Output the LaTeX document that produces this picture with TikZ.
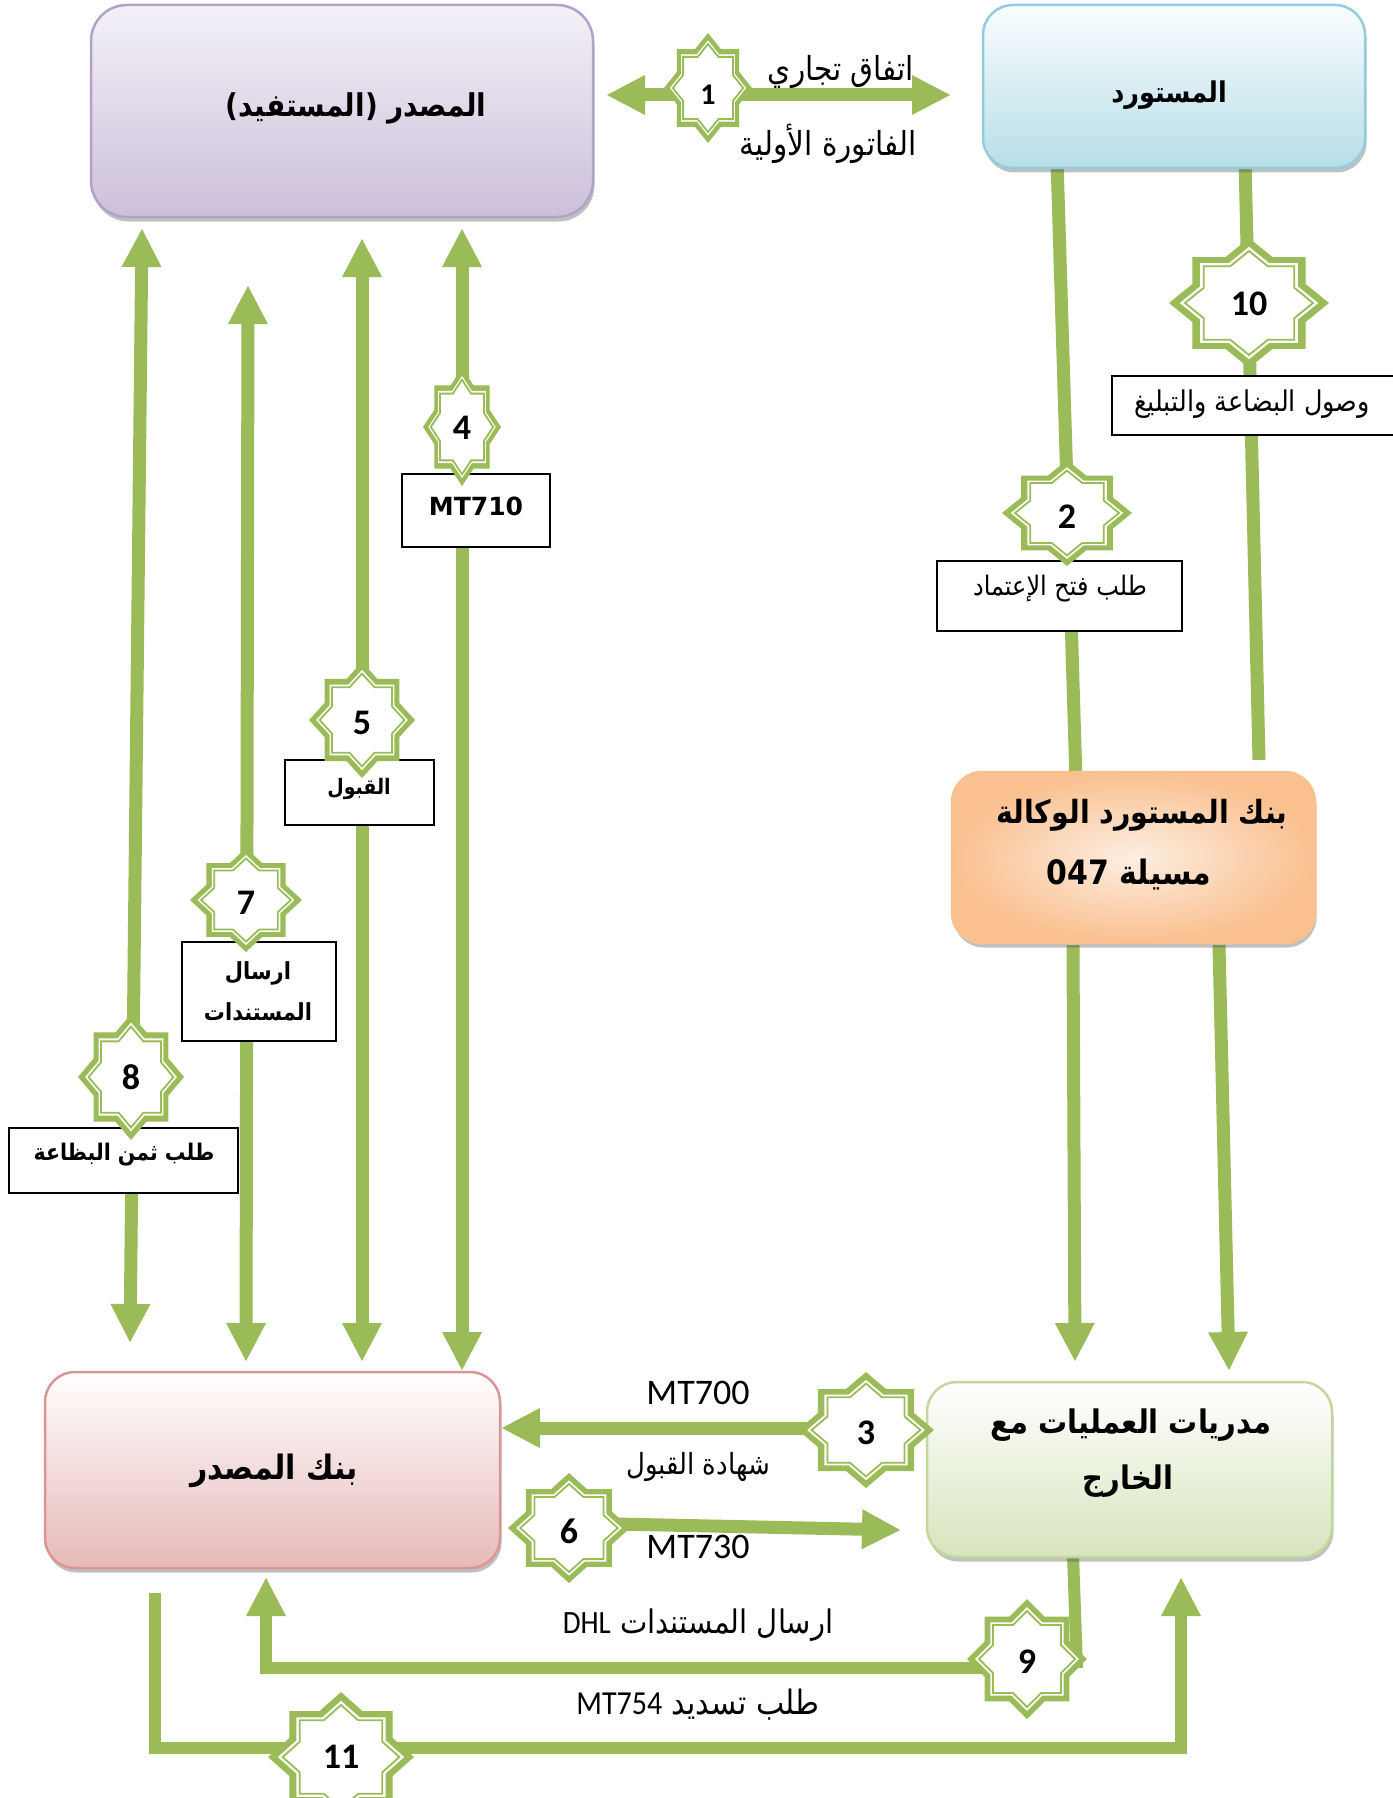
\documentclass[tikz,border=0pt]{standalone}
\usepackage{fontspec}
\usepackage{graphicx}
\usetikzlibrary{arrows.meta,shadows}
\TeXXeTstate=1
\newfontfamily\arf[Script=Arabic]{DejaVu Sans}
\newfontfamily\carl{Carlito}
\newfontfamily\dvs{DejaVu Sans}
\newcommand{\AR}[1]{\scalebox{1}[1.12]{\arf\beginR #1\endR}}
\newcommand{\fs}[1]{\fontsize{#1}{#1}\selectfont}
\definecolor{gr}{HTML}{9BBB59}
\definecolor{purB}{HTML}{B3A2C7}
\definecolor{purT}{HTML}{F3F1F7}
\definecolor{purD}{HTML}{CCC0DA}
\definecolor{bluB}{HTML}{93CDDD}
\definecolor{bluT}{HTML}{FAFDFE}
\definecolor{bluD}{HTML}{B7DEE8}
\definecolor{orB}{HTML}{FAC090}
\definecolor{orL}{HTML}{FDEEE2}
\definecolor{orD}{HTML}{FAC08F}
\definecolor{pkB}{HTML}{D99694}
\definecolor{pkT}{HTML}{FFFFFF}
\definecolor{pkD}{HTML}{E6B9B8}
\definecolor{gnB}{HTML}{C3D69B}
\definecolor{gnT}{HTML}{FFFFFF}
\definecolor{gnD}{HTML}{D7E4BD}
\tikzset{
  gtip/.tip={Triangle[width=40pt,length=38pt,line width=0pt]},
  gl/.style={draw=gr, line width=13pt},
  ga/.style={gl,-gtip},
  gab/.style={gl,gtip-gtip},
  bigbox/.style={rounded corners=30pt, line width=2.5pt, inner sep=0pt,
    drop shadow={shadow xshift=1.5pt, shadow yshift=-4.5pt, opacity=0.35, fill=black!70}},
  lbox/.style={draw=black, line width=1.6pt, fill=white, inner sep=0pt},
  tb/.style={inner sep=0pt, font=\arf\bfseries\fs{28}},
  tlb/.style={inner sep=0pt, font=\arf\bfseries\fs{21}},
  tr/.style={inner sep=0pt, font=\arf\fs{26}},
  trs/.style={inner sep=0pt, font=\arf\fs{23}},
  tl/.style={inner sep=0pt, font=\carl\fs{36}},
}
\def\octpath#1{(0:#1) \foreach \k in {1,...,15}{ -- ({\k*22.5}:{#1*(0.8827+0.1173*cos(\k*180))}) } -- cycle}
\newcommand{\gstar}[8]{% name, x, y, half-w, half-h, number, size, number y-offset
  \begin{scope}[shift={(#2,#3)}, x=#4pt, y=#5pt]
    \fill[gr] \octpath{1};
    \fill[white] \octpath{0.865};
    \draw[gr, line width=1.8pt, line join=miter] \octpath{0.80};
  \end{scope}
  \node[inner sep=0pt, font=\carl\bfseries\fs{#7}] (#1) at ({#2},{#3+#8}) {#6};
}
\begin{document}
\begin{tikzpicture}[x=1pt,y=-1pt]
\useasboundingbox (0,0) rectangle (1392,1798);
\fill[white] (0,0) rectangle (1392,1798);

% ---- connector end points
\coordinate (t1L) at (607,95);  \coordinate (t1R) at (950,95);
\coordinate (t8u) at (142,229); \coordinate (t8d) at (130,1342);
\coordinate (t7u) at (248,286); \coordinate (t7d) at (246,1361);
\coordinate (t5u) at (362,239); \coordinate (t5d) at (362,1361);
\coordinate (t4u) at (462,229); \coordinate (t4d) at (462,1370);
\coordinate (r2a) at (1057,160); \coordinate (r2b) at (1076,780);
\coordinate (r10a) at (1245,160); \coordinate (r10b) at (1259,760);
\coordinate (r3a) at (1073,945); \coordinate (r3b) at (1075,1361);
\coordinate (r4a) at (1219,945); \coordinate (r4b) at (1229,1370);
\coordinate (h3a) at (870,1428); \coordinate (h3b) at (502,1428);
\coordinate (h6a) at (569,1523); \coordinate (h6b) at (900,1530);
\coordinate (h9a) at (1073,1555); \coordinate (h9b) at (1077,1668);
\coordinate (h9c) at (1000,1668); \coordinate (h9d) at (266,1668); \coordinate (h9e) at (266,1578);
\coordinate (h11a) at (155,1593); \coordinate (h11b) at (155,1748);
\coordinate (h11c) at (1181,1748); \coordinate (h11d) at (1181,1578);

% ---- green connectors
\draw[gab] (t1L) -- (t1R);
\draw[gab] (t8u) -- (t8d);
\draw[gab] (t7u) -- (t7d);
\draw[gab] (t5u) -- (t5d);
\draw[gab] (t4u) -- (t4d);
\draw[gl] (r2a) -- (r2b);
\draw[gl] (r10a) -- (r10b);
\draw[ga] (r3a) -- (r3b);
\draw[ga] (r4a) -- (r4b);
\draw[ga] (h3a) -- (h3b);
\draw[ga] (h6a) -- (h6b);
\draw[gl, line width=12pt] (h9a) -- (h9b);
\draw[ga, line width=12pt, line join=miter] (h9c) -- (h9d) -- (h9e);
\draw[ga, line width=12pt, line join=miter] (h11a) -- (h11b) -- (h11c) -- (h11d);

% ---- main boxes
\node[bigbox, rounded corners=36pt, minimum width=502pt, minimum height=212pt, draw=purB, top color=purT, bottom color=purD] (src) at (342,111) {};
\node[bigbox, minimum width=382pt, minimum height=163pt, draw=bluB, top color=bluT, bottom color=bluD] (imp) at (1174,86.5) {};
\node[bigbox, minimum width=363pt, minimum height=171pt, draw=orB, shading=radial, inner color=orL, outer color=orD] (ibank) at (1133.5,857.5) {};
\node[bigbox, minimum width=405pt, minimum height=175pt, draw=gnB, top color=gnT, bottom color=gnD] (ops) at (1129.5,1469.5) {};
\node[bigbox, minimum width=455pt, minimum height=196pt, draw=pkB, top color=pkT, bottom color=pkD] (sbank) at (272.5,1470) {};

\node[tb] (srcT) at (356,108) {\AR{المصدر (المستفيد)}};
\node[tb, font=\arf\bfseries\fs{25.5}] (impT) at (1169,95) {\AR{المستورد}};
\node[tb, font=\arf\bfseries\fs{28.5}] (ibankT1) at (1142,815) {\AR{بنك المستورد الوكالة}};
\node[tb, font=\arf\bfseries\fs{30}] (ibankT2) at (1129,875) {\AR{مسيلة \beginL 047\endL}};
\node[tb, font=\arf\bfseries\fs{29}] (opsT1) at (1131,1425) {\AR{مدريات العمليات مع}};
\node[tb, font=\arf\bfseries\fs{29}] (opsT2) at (1128,1481) {\AR{الخارج}};
\node[tb, font=\arf\bfseries\fs{30}] (sbankT) at (274,1471) {\AR{بنك المصدر}};

% ---- label boxes
\node[lbox, minimum width=148pt, minimum height=73pt] (lb4) at (476,510.5) {};
\node[inner sep=0pt, font=\dvs\bfseries\fs{25}] (lb4T) at (476,506) {MT710};
\node[lbox, minimum width=149pt, minimum height=65pt] (lb5) at (359.5,792.5) {};
\node[tlb, font=\arf\bfseries\fs{19}] (lb5T) at (359,789) {\AR{القبول}};
\node[lbox, minimum width=154pt, minimum height=99pt] (lb7) at (259,991.5) {};
\node[tlb] (lb7T1) at (258,973) {\AR{ارسال}};
\node[tlb] (lb7T2) at (258,1012) {\AR{المستندات}};
\node[lbox, minimum width=229pt, minimum height=65pt] (lb8) at (123.5,1160.5) {};
\node[tlb, font=\arf\bfseries\fs{20.5}] (lb8T) at (124,1155) {\AR{طلب ثمن البظاعة}};
\node[lbox, minimum width=245pt, minimum height=70pt] (lb2) at (1059.5,596) {};
\node[trs, font=\arf\fs{24}] (lb2T) at (1060,589) {\AR{طلب فتح الإعتماد}};
\node[lbox, minimum width=288pt, minimum height=59pt] (lb10) at (1256,405.5) {};
\node[trs, font=\arf\fs{25.5}] (lb10T) at (1252,404) {\AR{وصول البضاعة والتبليغ}};

% ---- stars
\gstar{s1}{708}{88}{44}{55}{1}{30}{7}
\gstar{s2}{1067}{513}{65}{53}{2}{36}{4}
\gstar{s10}{1249}{303}{80}{65}{10}{36}{1}
\gstar{s4}{462}{427}{39}{59}{4}{36}{1}
\gstar{s5}{362}{720}{53}{58}{5}{36}{3}
\gstar{s7}{246}{900}{56}{52}{7}{36}{3}
\gstar{s8}{131}{1077}{53}{63}{8}{36}{0}
\gstar{s3}{866}{1430}{68}{58}{3}{36}{3}
\gstar{s6}{569}{1528}{61}{55}{6}{36}{3}
\gstar{s9}{1027}{1659}{60}{60}{9}{36}{3}
\gstar{s11}{341}{1757}{73}{65}{11}{36}{0}

% ---- free labels
\node[tr, font=\arf\fs{29.5}] (l1a) at (841,72) {\AR{اتفاق تجاري}};
\node[tr, font=\arf\fs{29.5}] (l1b) at (828,144) {\AR{الفاتورة الأولية}};
\node[tl] (l3a) at (698,1393) {MT700};
\node[tr] (l3b) at (698,1467) {\AR{شهادة القبول}};
\node[tl] (l6) at (698,1547) {MT730};
\node[tr, font=\arf\fs{29}] (l9) at (698,1625) {\AR{ارسال المستندات \beginL{\carl DHL}\endL}};
\node[tr, font=\arf\fs{30}] (l11) at (698,1705) {\AR{طلب تسديد \beginL{\carl MT754}\endL}};
\end{tikzpicture}
\end{document}
